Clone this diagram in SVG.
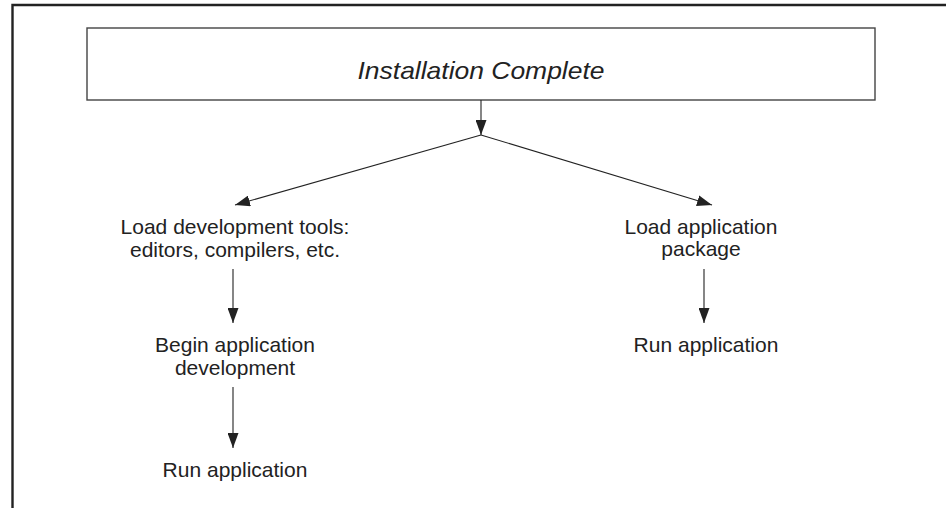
<svg xmlns="http://www.w3.org/2000/svg" width="946" height="508" viewBox="0 0 946 508">
  <style>
    .frame { fill: none; stroke: #222; stroke-width: 2.4; }
    .box { fill: #fff; stroke: #444; stroke-width: 1.4; }
    .edge { fill: none; stroke: #222; stroke-width: 1.1; }
    .lbl { font-family: "Liberation Sans", Arial, sans-serif; font-size: 21px; fill: #222; text-anchor: middle; }
    .title { font-style: italic; font-size: 24px; }
  </style>
  <defs>
    <marker id="arrow" viewBox="0 0 15 11" refX="15" refY="5.5" markerWidth="15" markerHeight="11" markerUnits="userSpaceOnUse" orient="auto">
      <path d="M0,0 L15,5.5 L0,11 Z" fill="#222"/>
    </marker>
  </defs>
  <rect width="946" height="508" fill="#fff"/>

  <!-- page frame: top and left rules only -->
  <path class="frame" d="M12.5,508 L12.5,5 L946,5"/>

  <g id="installation-complete">
    <rect class="box" x="87" y="28" width="788" height="72"/>
    <text class="lbl title" x="481" y="79" textLength="247" lengthAdjust="spacingAndGlyphs">Installation Complete</text>
  </g>

  <g id="load-dev-tools">
    <text class="lbl" x="235" y="234">Load development tools:</text>
    <text class="lbl" x="235" y="257">editors, compilers, etc.</text>
  </g>

  <g id="begin-dev">
    <text class="lbl" x="235" y="352">Begin application</text>
    <text class="lbl" x="235" y="375">development</text>
  </g>

  <g id="run-app-left">
    <text class="lbl" x="235" y="477">Run application</text>
  </g>

  <g id="load-package">
    <text class="lbl" x="701" y="234">Load application</text>
    <text class="lbl" x="701" y="256">package</text>
  </g>

  <g id="run-app-right">
    <text class="lbl" x="706" y="352">Run application</text>
  </g>

  <g id="connectors">
    <line class="edge" x1="481" y1="100" x2="481" y2="135" marker-end="url(#arrow)"/>
    <line class="edge" x1="481" y1="135" x2="235" y2="205" marker-end="url(#arrow)"/>
    <line class="edge" x1="481" y1="135" x2="712" y2="205" marker-end="url(#arrow)"/>
    <line class="edge" x1="233" y1="269" x2="233" y2="323" marker-end="url(#arrow)"/>
    <line class="edge" x1="233" y1="387" x2="233" y2="448" marker-end="url(#arrow)"/>
    <line class="edge" x1="704" y1="269" x2="704" y2="323" marker-end="url(#arrow)"/>
  </g>
</svg>
